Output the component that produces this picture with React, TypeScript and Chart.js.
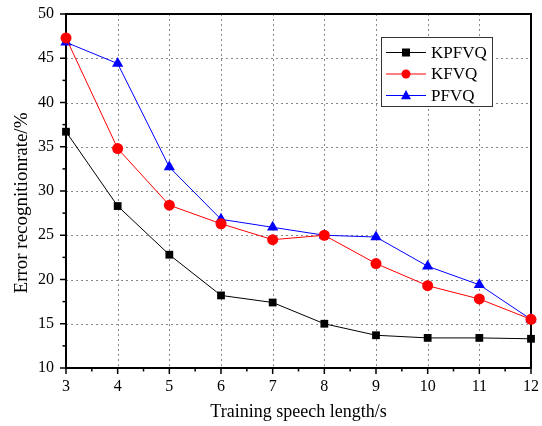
import React, { useEffect, useRef } from "react";
import { Chart, registerables } from "chart.js";

Chart.register(...registerables);

const xValues = [3, 4, 5, 6, 7, 8, 9, 10, 11, 12];
const kpfvq = [36.7, 28.3, 22.8, 18.2, 17.4, 15.0, 13.7, 13.4, 13.4, 13.3];
const kfvq = [47.3, 34.8, 28.4, 26.3, 24.5, 25.0, 21.8, 19.3, 17.8, 15.5];
const pfvq = [46.8, 44.4, 32.7, 26.8, 25.9, 25.0, 24.8, 21.5, 19.4, 15.5];
const seriesNames = ["KPFVQ", "KFVQ", "PFVQ"];
const xTitle = "Training speech length/s";
const yTitle = "Error recognitionrate/%";

const FONT = "'Liberation Serif', 'Times New Roman', serif";

function drawMarker(ctx: CanvasRenderingContext2D, style: string, x: number, y: number, r: number, color: string) {
  ctx.save();
  ctx.fillStyle = color;
  ctx.beginPath();
  if (style === "rect") {
    ctx.rect(x - r, y - r, 2 * r, 2 * r);
  } else if (style === "circle") {
    ctx.arc(x, y, r, 0, Math.PI * 2);
  } else {
    ctx.moveTo(x, y - r * 1.1);
    ctx.lineTo(x + r, y + r * 0.75);
    ctx.lineTo(x - r, y + r * 0.75);
    ctx.closePath();
  }
  ctx.fill();
  ctx.restore();
}

const framePlugin = {
  id: "framePlugin",
  beforeDatasetsDraw(chart: any) {
    const ctx = chart.ctx as CanvasRenderingContext2D;
    const { left, right, top, bottom } = chart.chartArea;
    const xs = chart.scales.x;
    const ys = chart.scales.y;
    ctx.save();
    // grid
    ctx.strokeStyle = "#8a8a8a";
    ctx.lineWidth = 1;
    ctx.setLineDash([2, 3]);
    for (let v = 4; v <= 11; v++) {
      const px = Math.round(xs.getPixelForValue(v)) + 0.5;
      ctx.beginPath();
      ctx.moveTo(px, top);
      ctx.lineTo(px, bottom);
      ctx.stroke();
    }
    for (let v = 15; v <= 45; v += 5) {
      const py = Math.round(ys.getPixelForValue(v)) + 0.5;
      ctx.beginPath();
      ctx.moveTo(left, py);
      ctx.lineTo(right, py);
      ctx.stroke();
    }
    ctx.setLineDash([]);
    // frame
    ctx.strokeStyle = "#000";
    ctx.lineWidth = 2;
    ctx.strokeRect(left, top, right - left, bottom - top);
    // ticks
    ctx.lineWidth = 1.5;
    for (let v = 3; v <= 12; v += 0.5) {
      const px = xs.getPixelForValue(v);
      const len = Number.isInteger(v) ? 6 : 3.5;
      ctx.beginPath();
      ctx.moveTo(px, bottom);
      ctx.lineTo(px, bottom + len);
      ctx.stroke();
    }
    for (let v = 10; v <= 50; v += 2.5) {
      const py = ys.getPixelForValue(v);
      const len = v % 5 === 0 ? 6 : 3.5;
      ctx.beginPath();
      ctx.moveTo(left, py);
      ctx.lineTo(left - len, py);
      ctx.stroke();
    }
    // axis titles
    ctx.fillStyle = "#000";
    ctx.font = `18px ${FONT}`;
    ctx.textAlign = "center";
    ctx.textBaseline = "middle";
    ctx.fillText(xTitle, (left + right) / 2, 412);
    ctx.save();
    ctx.translate(22, 203);
    ctx.rotate(-Math.PI / 2);
    ctx.font = `19px ${FONT}`;
    ctx.fillText(yTitle, 0, 0);
    ctx.restore();
    ctx.restore();
  },
  afterDatasetsDraw(chart: any) {
    const ctx = chart.ctx as CanvasRenderingContext2D;
    const { right, top } = chart.chartArea;
    const bx = right - 150;
    const by = top + 23;
    const bw = 111;
    const bh = 69;
    ctx.save();
    ctx.fillStyle = "#fff";
    ctx.fillRect(bx, by, bw, bh);
    ctx.strokeStyle = "#333";
    ctx.lineWidth = 1;
    ctx.strokeRect(bx + 0.5, by + 0.5, bw, bh);
    const colors = ["#000000", "#ff0000", "#0000ff"];
    const styles = ["rect", "circle", "triangle"];
    const radii = [4, 4.5, 5];
    ctx.font = `17px ${FONT}`;
    ctx.textBaseline = "middle";
    ctx.textAlign = "left";
    for (let i = 0; i < 3; i++) {
      const y = by + 15.5 + i * 21.5;
      ctx.strokeStyle = colors[i];
      ctx.lineWidth = 1;
      ctx.beginPath();
      ctx.moveTo(bx + 5, y);
      ctx.lineTo(bx + 45, y);
      ctx.stroke();
      drawMarker(ctx, styles[i], bx + 25, y, radii[i], colors[i]);
      ctx.fillStyle = "#000";
      ctx.fillText(seriesNames[i], bx + 50, y + 1);
    }
    ctx.restore();
  },
};

export default function App() {
  const ref = useRef<HTMLCanvasElement | null>(null);
  useEffect(() => {
    document.body.style.margin = "0";
    const ctx = ref.current!.getContext("2d")!;
    const mk = (vals: number[]) => xValues.map((x, i) => ({ x, y: vals[i] }));
    const chart = new Chart(ctx, {
      type: "line",
      data: {
        datasets: [
          {
            label: seriesNames[0],
            data: mk(kpfvq),
            borderColor: "#000000",
            backgroundColor: "#000000",
            borderWidth: 1,
            pointStyle: "rect",
            pointRadius: 5.5,
            pointBorderWidth: 0,
            clip: false as any,
          },
          {
            label: seriesNames[1],
            data: mk(kfvq),
            borderColor: "#ff0000",
            backgroundColor: "#ff0000",
            borderWidth: 1,
            pointStyle: "circle",
            pointRadius: 5.5,
            pointBorderWidth: 0,
            clip: false as any,
          },
          {
            label: seriesNames[2],
            data: mk(pfvq),
            borderColor: "#0000ff",
            backgroundColor: "#0000ff",
            borderWidth: 1,
            pointStyle: "triangle",
            pointRadius: 6.5,
            pointBorderWidth: 0,
            clip: false as any,
          },
        ],
      },
      options: {
        animation: false,
        responsive: false,
        maintainAspectRatio: false,
        layout: { padding: { left: 0, right: 11, top: 14, bottom: 0 } },
        plugins: { legend: { display: false }, tooltip: { enabled: false } },
        scales: {
          x: {
            type: "linear",
            min: 3,
            max: 12,
            grid: { display: false, drawTicks: false },
            border: { display: false },
            ticks: {
              stepSize: 1,
              color: "#000",
              padding: 9,
              font: { family: FONT, size: 16 },
            },
            afterFit: (s: any) => {
              s.height = 58;
              s.paddingLeft = 0;
              s.paddingRight = 0;
            },
          },
          y: {
            type: "linear",
            min: 10,
            max: 50,
            grid: { display: false, drawTicks: false },
            border: { display: false },
            ticks: {
              stepSize: 5,
              color: "#000",
              padding: 12,
              font: { family: FONT, size: 16 },
            },
            afterFit: (s: any) => {
              s.width = 66;
              s.paddingTop = 0;
              s.paddingBottom = 0;
            },
          },
        },
      },
      plugins: [framePlugin],
    });
    return () => chart.destroy();
  }, []);
  return (
    <div style={{ width: 542, height: 426, background: "#fff" }}>
      <canvas ref={ref} width={542} height={426} style={{ display: "block" }} />
    </div>
  );
}
